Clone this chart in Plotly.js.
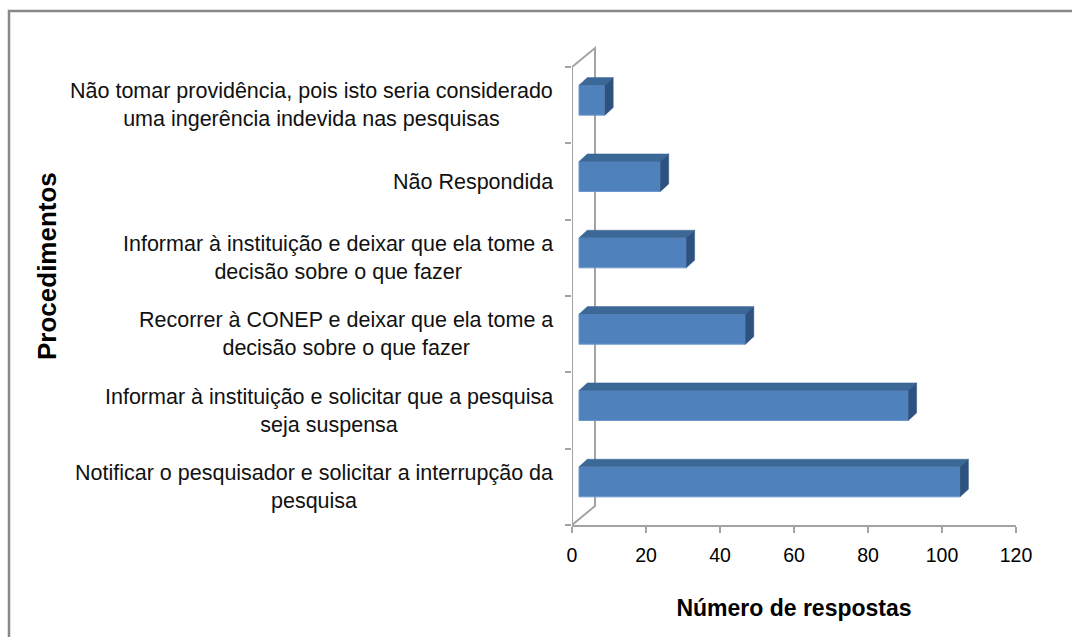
<!DOCTYPE html>
<html>
<head>
<meta charset="utf-8">
<script src="https://cdn.plot.ly/plotly-3.0.1.min.js"></script>
<style>
  html, body { margin: 0; padding: 0; background: #fff; }
  #chart { width: 1072px; height: 637px; }
</style>
</head>
<body>
<div id="chart"></div>
<script>
// ---- data (bottom to top) ----
const categories = [
  "Notificar o pesquisador e solicitar a interrupção da<br>pesquisa",
  "Informar à instituição e solicitar que a pesquisa<br>seja suspensa",
  "Recorrer à CONEP e deixar que ela tome a<br>decisão sobre o que fazer",
  "Informar à instituição e deixar que ela tome a<br>decisão sobre o que fazer",
  "Não Respondida",
  "Não tomar providência, pois isto seria considerado<br>uma ingerência indevida nas pesquisas"
];
const values = [103, 89, 45, 29, 22, 7];
const xTickVals = [0, 20, 40, 60, 80, 100, 120];
const xTitle = "Número de respostas";
const yTitle = "Procedimentos";

// ---- geometry / style constants ----
const W = 1072, H = 637;
const plotL = 572, plotR = 1016, plotT = 44, plotB = 525;
const xPerPx = 120 / (plotR - plotL);
const yPerPx = 6 / (525 - 67);
const FONT = "Liberation Sans, Arial, sans-serif";
const GRAY = "#a3a3a3";
const FRONT = "#4f81bd", TOP = "#3c6898", SIDE = "#2e5280";

const barOffX = 7 * xPerPx;     // front face shift from front axis
const barOffY = 5 * yPerPx;     // upward shift
const barW = 30 * yPerPx;       // bar thickness
const depX = 8.3 * xPerPx;      // bar depth
const depY = 7.6 * yPerPx;
const wallX = 23 * xPerPx;      // wall depth
const wallY = 19 * yPerPx;

const n = categories.length;
const idx = categories.map((_, i) => i);
const traces = [];

// top and side faces
values.forEach((v, i) => {
  const x0 = barOffX, x1 = barOffX + v;
  const yc = i + barOffY;
  const yt = yc + barW / 2, yb = yc - barW / 2;
  traces.push({
    type: "scatter", mode: "lines", fill: "toself", hoverinfo: "skip", showlegend: false, cliponaxis: false,
    x: [x0, x1, x1 + depX, x0 + depX, x0],
    y: [yt, yt, yt + depY, yt + depY, yt],
    fillcolor: TOP, line: { color: TOP, width: 0.5 }
  });
  traces.push({
    type: "scatter", mode: "lines", fill: "toself", hoverinfo: "skip", showlegend: false, cliponaxis: false,
    x: [x1, x1, x1 + depX, x1 + depX, x1],
    y: [yb, yt, yt + depY, yb + depY, yb],
    fillcolor: SIDE, line: { color: SIDE, width: 0.5 }
  });
});

// front faces
traces.push({
  type: "bar", orientation: "h", showlegend: false,
  x: values, y: idx.map(i => i + barOffY), base: barOffX, width: barW,
  marker: { color: FRONT, line: { color: "#6d97cc", width: 1 } },
  hovertemplate: "%{x}<extra></extra>"
});

// category labels
const annotations = categories.map((c, i) => ({
  xref: "paper", yref: "y", x: 0, y: i, xshift: -17,
  xanchor: "right", yanchor: "middle", align: "center", showarrow: false,
  text: c, font: { family: FONT, size: 21.5, color: "#111" }
}));
annotations.push({
  xref: "paper", yref: "paper",
  x: (47 - plotL) / (plotR - plotL), y: (plotB - 266) / (plotB - plotT),
  xanchor: "center", yanchor: "middle", textangle: -90, showarrow: false,
  text: "<b>" + yTitle + "</b>", font: { family: FONT, size: 26, color: "#000" }
});

// frame walls (below the bars) and outer border
const bx = (9 - plotL) / (plotR - plotL);
const by = (plotB - 11) / (plotB - plotT);
const shapes = [
  {
    type: "path", xref: "x", yref: "y", layer: "below",
    path: `M 0 -0.5 L 0 ${n - 0.5} L ${wallX} ${n - 0.5 + wallY} L ${wallX} ${-0.5 + wallY} L 0 -0.5`,
    line: { color: GRAY, width: 2 }
  },
  {
    type: "path", xref: "paper", yref: "paper",
    path: `M ${bx} ${(plotB - 700) / (plotB - plotT)} L ${bx} ${by} L ${(1200 - plotL) / (plotR - plotL)} ${by}`,
    line: { color: "#888", width: 2.5 }
  }
];

const layout = {
  width: W, height: H,
  margin: { l: plotL, r: W - plotR, t: plotT, b: H - plotB, pad: 0 },
  paper_bgcolor: "#fff", plot_bgcolor: "rgba(0,0,0,0)",
  showlegend: false,
  xaxis: {
    range: [0, 120], tickvals: xTickVals, ticks: "outside", ticklen: 6, tickwidth: 2, tickcolor: GRAY,
    showline: true, linecolor: GRAY, linewidth: 2, showgrid: false, zeroline: false,
    ticklabelstandoff: 6,
    tickfont: { family: FONT, size: 19.5, color: "#000" },
    title: { text: "<b>" + xTitle + "</b>", font: { family: FONT, size: 23, color: "#000" }, standoff: 34 },
    fixedrange: true
  },
  yaxis: {
    range: [-0.5, n - 0.5 + (67 - plotT) * yPerPx],
    tickvals: [-0.5, 0.5, 1.5, 2.5, 3.5, 4.5, 5.5], ticktext: ["", "", "", "", "", "", ""],
    ticks: "outside", ticklen: 6, tickwidth: 2, tickcolor: GRAY,
    showline: false, showgrid: false, zeroline: false, fixedrange: true
  },
  annotations: annotations,
  shapes: shapes,
  bargap: 0
};

Plotly.newPlot("chart", traces, layout, { displayModeBar: false, staticPlot: true });
</script>
</body>
</html>
